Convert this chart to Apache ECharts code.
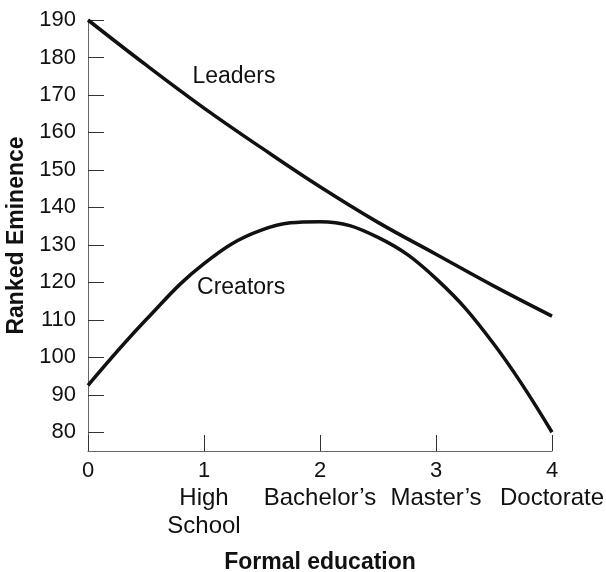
<!DOCTYPE html>
<html>
<head>
	<meta charset="utf-8">
	<title>Ranked Eminence</title>
	<style type="text/css">
		html, body { margin: 0; padding: 0; background: #fff; }
		#main { width: 606px; height: 572px; }
	</style>
	<script src="https://cdn.jsdelivr.net/npm/echarts@6/dist/echarts.min.js"></script>
</head>
<body>
	<div id="main"></div>
	<script type="text/javascript">
		// formal education level (x) and ranked eminence (y)
		var eduX = [0, 0.5, 1, 1.5, 2, 2.5, 3, 3.5, 4];
		var leadersY = [190, 178, 166.5, 155.8, 145.5, 136, 127.5, 119, 111];
		var creatorsY = [92.5, 110, 125, 134, 136.2, 132, 121, 103.5, 80];

		var levelNames = ['', 'High\nSchool', 'Bachelor\u2019s', 'Master\u2019s', 'Doctorate'];
		var yTicks = [80, 90, 100, 110, 120, 130, 140, 150, 160, 170, 180, 190];

		function pairs(xs, ys) {
			var out = [];
			for (var i = 0; i < xs.length; i++) out.push([xs[i], ys[i]]);
			return out;
		}

		var font = 'Liberation Sans, Arial, Helvetica, sans-serif';
		var chart = echarts.init(document.getElementById('main'));
		var option = {
			animation: false,
			grid: { left: 88, right: 54, top: 20, bottom: 121, containLabel: false, outerBoundsMode: 'none' },
			xAxis: {
				type: 'value',
				min: 0,
				max: 4,
				interval: 1,
				name: 'Formal education',
				nameLocation: 'middle',
				nameGap: 100,
				nameTextStyle: { fontFamily: font, fontSize: 23, fontWeight: 'bold', color: '#111' },
				axisLine: { lineStyle: { color: '#666', width: 1 } },
				axisTick: { inside: true, length: 16, lineStyle: { color: '#333' } },
				splitLine: { show: false },
				axisLabel: {
					fontFamily: font,
					fontSize: 22,
					color: '#111',
					margin: 6,
					lineHeight: 27,
					formatter: function (v) {
						var n = levelNames[v];
						if (!n) return '{n|' + v + '}';
						return '{n|' + v + '}\n' + n.split('\n').map(function (s) { return '{t|' + s + '}'; }).join('\n');
					},
					rich: {
						n: { fontFamily: font, fontSize: 22, color: '#111', lineHeight: 27 },
						t: { fontFamily: font, fontSize: 24, color: '#111', lineHeight: 28 }
					}
				}
			},
			yAxis: {
				type: 'value',
				min: 75,
				max: 190,
				name: 'Ranked Eminence',
				nameLocation: 'middle',
				nameGap: 57,
				nameTextStyle: { fontFamily: font, fontSize: 23, fontWeight: 'bold', color: '#111' },
				axisLine: { show: true, lineStyle: { color: '#666', width: 1 } },
				axisTick: { show: true, inside: true, length: 16, customValues: yTicks, lineStyle: { color: '#333' } },
				splitLine: { show: false },
				axisLabel: { fontFamily: font, fontSize: 22, color: '#111', margin: 12, customValues: yTicks }
			},
			series: [
				{
					name: 'Leaders',
					type: 'line',
					smooth: 0.4,
					symbol: 'none',
					silent: true,
					lineStyle: { color: '#111', width: 3.5 },
					data: pairs(eduX, leadersY),
					markPoint: {
						symbol: 'circle',
						symbolSize: 0,
						label: { show: true, position: 'right', distance: 0, fontFamily: font, fontSize: 23, color: '#111', formatter: 'Leaders' },
						data: [{ coord: [0.9, 174.8] }]
					}
				},
				{
					name: 'Creators',
					type: 'line',
					smooth: 0.4,
					symbol: 'none',
					silent: true,
					lineStyle: { color: '#111', width: 3.5 },
					data: pairs(eduX, creatorsY),
					markPoint: {
						symbol: 'circle',
						symbolSize: 0,
						label: { show: true, position: 'right', distance: 0, fontFamily: font, fontSize: 23, color: '#111', formatter: 'Creators' },
						data: [{ coord: [0.94, 118.6] }]
					}
				}
			]
		};

		chart.setOption(option);
	</script>
</body>
</html>
